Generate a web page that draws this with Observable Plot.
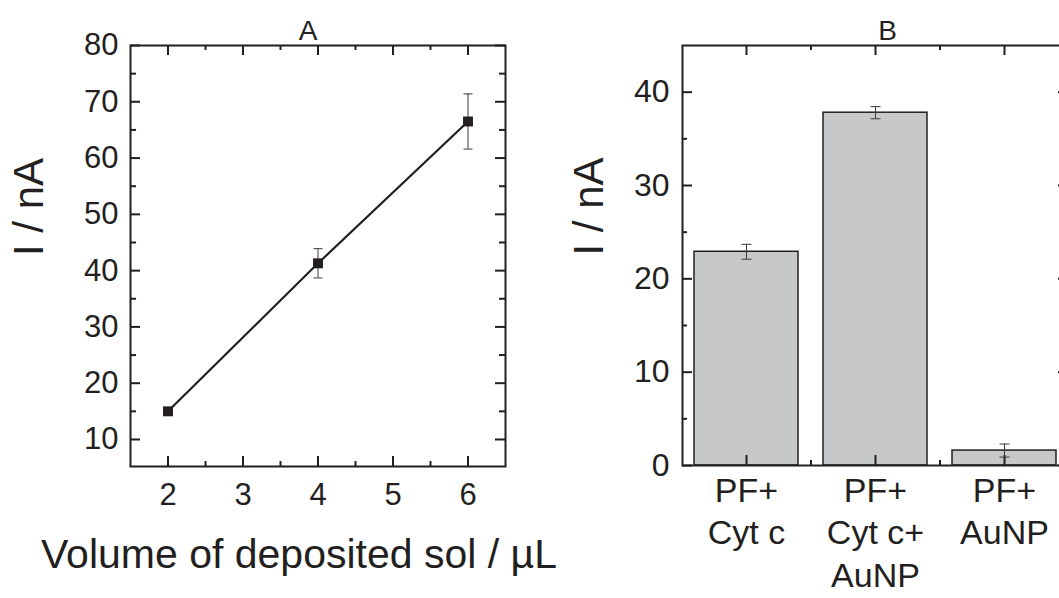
<!DOCTYPE html>
<html><head><meta charset="utf-8">
<script src="https://cdn.jsdelivr.net/npm/d3@7"></script>
<script src="https://cdn.jsdelivr.net/npm/@observablehq/plot@0.6"></script>
<style>
html,body{margin:0;padding:0;background:#fff;overflow:hidden;width:1059px;height:598px;}
#wrap{display:flex;width:1072px;}
#wrap svg{display:block;flex:none;}
</style></head><body><div id="wrap"></div>
<script>
// ---- Panel A data ----
const volumes = [2, 4, 6];
const currentsA = [15.0, 41.3, 66.5];
const errorsA = [0.5, 2.6, 4.9];
const xTicksA = [2, 3, 4, 5, 6];
const xMinorA = [2.5, 3.5, 4.5, 5.5];
const yTicksA = [10, 20, 30, 40, 50, 60, 70, 80];
const yMinorA = [15, 25, 35, 45, 55, 65, 75];
const titleA = "A";
const xLabelA = "Volume of deposited sol / µL";
const yLabel = "I / nA";

// ---- Panel B data ----
const categories = ["PF+ Cyt c", "PF+ Cyt c+ AuNP", "PF+ AuNP"];
const categoryLabels = ["PF+\nCyt c", "PF+\nCyt c+\nAuNP", "PF+\nAuNP"];
const currentsB = [22.9, 37.8, 1.6];
const errorsB = [0.8, 0.65, 0.7];
const yTicksB = [0, 10, 20, 30, 40];
const yMinorB = [5, 15, 25, 35];
const minorCatsB = [categories[0], categories[1]];
const titleB = "B";

const ink = "#231f20";
const font = "'Liberation Sans', Arial, sans-serif";

const dataA = volumes.map((v, i) => ({v, i: currentsA[i], e: errorsA[i]}));
const dataB = categories.map((c, i) => ({c, y: currentsB[i], e: errorsB[i]}));

const capSymbol = {draw(ctx, size) { const r = Math.sqrt(size / Math.PI); ctx.moveTo(-r, 0); ctx.lineTo(r, 0); }};

// inward ticks on all four sides, built from rules spanning only `len` px of the frame
function xTicks(values, len, frameH, opts = {}) {
  const base = {x: d => d, stroke: ink, strokeWidth: 2, ...opts};
  return [
    Plot.ruleX(values, {...base, insetTop: frameH - len}),
    Plot.ruleX(values, {...base, insetBottom: frameH - len})
  ];
}
function yTicks(values, len, frameW) {
  const base = {y: d => d, stroke: ink, strokeWidth: 2};
  return [
    Plot.ruleY(values, {...base, insetRight: frameW - len}),
    Plot.ruleY(values, {...base, insetLeft: frameW - len})
  ];
}

const wA = 375, hA = 421;
const plotA = Plot.plot({
  width: 540, height: 598,
  marginLeft: 130, marginRight: 35, marginTop: 45, marginBottom: 132,
  style: {fontFamily: font, color: ink, background: "transparent", overflow: "visible"},
  x: {domain: [1.5, 6.5], axis: null},
  y: {domain: [5.2, 80], axis: null},
  marks: [
    ...xTicks(xTicksA, 10, hA), ...xTicks(xMinorA, 5, hA),
    ...yTicks(yTicksA, 10, wA), ...yTicks(yMinorA, 6, wA),
    Plot.frame({stroke: ink, strokeWidth: 2}),
    Plot.axisX({ticks: xTicksA, tickSize: 0, tickPadding: 16, fontSize: 31, tickFormat: "d", label: null}),
    Plot.axisY({ticks: yTicksA, tickSize: 0, tickPadding: 12, fontSize: 31, tickFormat: "d", label: null}),
    Plot.ruleX(dataA, {x: "v", y1: d => d.i - d.e, y2: d => d.i + d.e, stroke: "#3a3a3a", strokeWidth: 1}),
    Plot.dot(dataA, {x: "v", y: d => d.i + d.e, symbol: capSymbol, r: 4.5, stroke: "#3a3a3a", strokeWidth: 1, fill: "none"}),
    Plot.dot(dataA, {x: "v", y: d => d.i - d.e, symbol: capSymbol, r: 4.5, stroke: "#3a3a3a", strokeWidth: 1, fill: "none"}),
    Plot.line(dataA, {x: "v", y: "i", stroke: ink, strokeWidth: 2.2}),
    Plot.dot(dataA, {x: "v", y: "i", symbol: "square", r: 5.6, fill: ink, stroke: null}),
    Plot.text([titleA], {text: d => d, frameAnchor: "top", lineAnchor: "bottom", dy: -6, dx: -10, fontSize: 28}),
    Plot.text([xLabelA], {text: d => d, frameAnchor: "bottom", lineAnchor: "bottom", dy: 101, dx: -19, fontSize: 41}),
    Plot.text([yLabel], {text: d => d, frameAnchor: "left", rotate: -90, lineAnchor: "bottom", dx: -88, fontSize: 42})
  ]
});

const wB = 386, hB = 420;
const plotB = Plot.plot({
  width: 530, height: 598,
  marginLeft: 142, marginRight: 2, marginTop: 45, marginBottom: 133,
  style: {fontFamily: font, color: ink, background: "transparent", overflow: "visible"},
  x: {domain: categories, paddingInner: 0.194, paddingOuter: 0.093, axis: null},
  y: {domain: [0, 45], axis: null},
  marks: [
    Plot.barY(dataB, {x: "c", y: "y", fill: "#c7c8ca", stroke: ink, strokeWidth: 1.5}),
    ...xTicks(categories, 10, hB), ...xTicks(minorCatsB, 5, hB, {dx: 64.5}),
    ...yTicks(yTicksB, 10, wB), ...yTicks(yMinorB, 5, wB),
    Plot.frame({stroke: ink, strokeWidth: 2}),
    Plot.axisY({ticks: yTicksB, tickSize: 0, tickPadding: 13, fontSize: 32, tickFormat: "d", label: null}),
    Plot.ruleX(dataB, {x: "c", y1: d => d.y - d.e, y2: d => d.y + d.e, stroke: "#3a3a3a", strokeWidth: 1}),
    Plot.dot(dataB, {x: "c", y: d => d.y + d.e, symbol: capSymbol, r: 5, stroke: "#3a3a3a", strokeWidth: 1, fill: "none"}),
    Plot.dot(dataB, {x: "c", y: d => d.y - d.e, symbol: capSymbol, r: 5, stroke: "#3a3a3a", strokeWidth: 1, fill: "none"}),
    Plot.text(dataB, {x: "c", text: (d, i) => categoryLabels[i], frameAnchor: "bottom", lineAnchor: "top", dy: 6, lineHeight: 1.25, fontSize: 34}),
    Plot.text([titleB], {text: d => d, frameAnchor: "top", lineAnchor: "bottom", dy: -6, dx: 12, fontSize: 28}),
    Plot.text([yLabel], {text: d => d, frameAnchor: "left", rotate: -90, lineAnchor: "bottom", dx: -80, fontSize: 42})
  ]
});

document.getElementById("wrap").append(plotA, plotB);
</script></body></html>
